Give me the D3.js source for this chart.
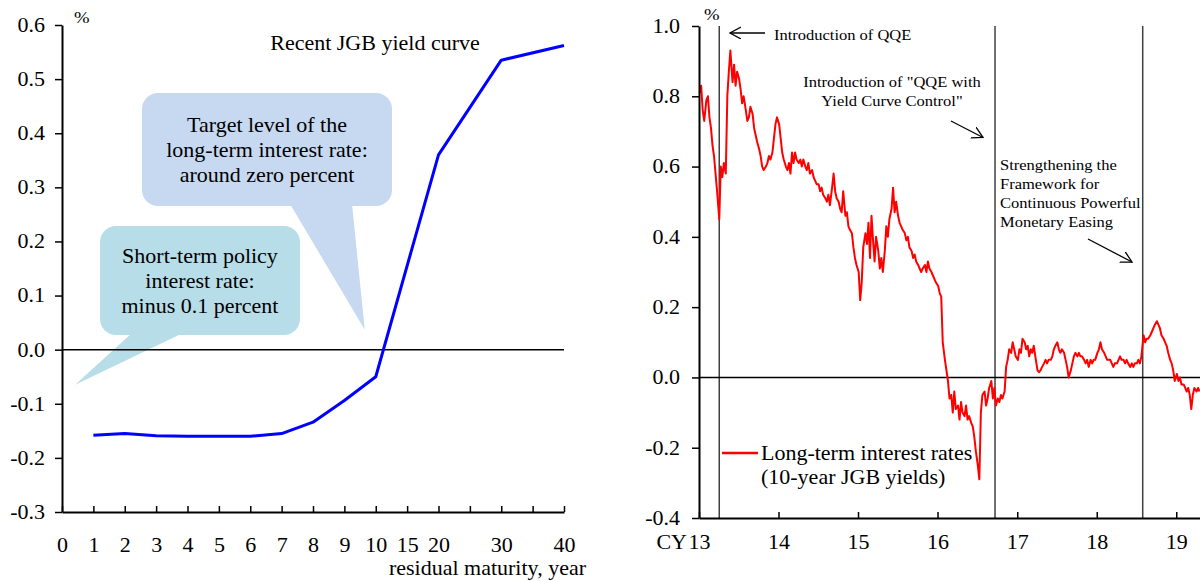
<!DOCTYPE html>
<html>
<head>
<meta charset="utf-8">
<script src="https://cdn.jsdelivr.net/npm/d3@7"></script>
<style>
  body { margin: 0; background: #fff; }
  svg { display: block; font-family: "Liberation Serif", "Times New Roman", serif; }
  svg text { font-family: "Liberation Serif", "Times New Roman", serif; }
</style>
</head>
<body>
<svg id="chart" width="1200" height="581"></svg>
<script>
// ---- left panel data: JGB yield curve
const maturityLabels = ['0', '1', '2', '3', '4', '5', '6', '7', '8', '9', '10', '15', '20', '', '30', '', '40'];
const curveMaturities = ['1', '2', '3', '4', '5', '6', '7', '8', '9', '10', '20', '30', '40'];
const curveYields = [-0.158, -0.155, -0.159, -0.160, -0.160, -0.160, -0.155, -0.134, -0.094, -0.050, 0.360, 0.535, 0.562];
const leftTicks = [-0.3, -0.2, -0.1, 0.0, 0.1, 0.2, 0.3, 0.4, 0.5, 0.6];

// ---- right panel data: 10-year JGB yields, four readings per month (4th, 11th, 18th, 25th)
const yields2013 = [0.81, 0.83, 0.76, 0.73, 0.79, 0.80, 0.74, 0.71, 0.66, 0.63, 0.58, 0.53,
                    0.45, 0.60, 0.57, 0.61, 0.58, 0.80, 0.87, 0.93, 0.84, 0.89, 0.83, 0.87,
                    0.85, 0.82, 0.78, 0.80, 0.76, 0.73, 0.74, 0.77, 0.75, 0.71, 0.69, 0.67,
                    0.65, 0.63, 0.60, 0.59, 0.60, 0.61, 0.63, 0.62, 0.64, 0.68, 0.72, 0.74];
const yields2014 = [0.72, 0.68, 0.64, 0.62, 0.60, 0.59, 0.61, 0.58, 0.64, 0.61, 0.64, 0.62,
                    0.61, 0.62, 0.60, 0.62, 0.60, 0.59, 0.61, 0.58, 0.59, 0.57, 0.56, 0.55,
                    0.55, 0.53, 0.54, 0.52, 0.51, 0.50, 0.52, 0.49, 0.54, 0.58, 0.53, 0.51,
                    0.50, 0.48, 0.47, 0.53, 0.46, 0.47, 0.43, 0.42, 0.41, 0.37, 0.34, 0.32];
const yields2015 = [0.30, 0.22, 0.27, 0.37, 0.41, 0.38, 0.44, 0.34, 0.46, 0.39, 0.33, 0.40,
                    0.36, 0.31, 0.34, 0.30, 0.36, 0.43, 0.40, 0.45, 0.48, 0.54, 0.47, 0.50,
                    0.46, 0.44, 0.43, 0.42, 0.41, 0.39, 0.40, 0.37, 0.36, 0.34, 0.35, 0.33,
                    0.32, 0.31, 0.30, 0.31, 0.32, 0.30, 0.33, 0.31, 0.30, 0.29, 0.28, 0.27];
const yields2016 = [0.26, 0.24, 0.23, 0.10, 0.05, 0.02, -0.01, -0.06, -0.05, -0.10, -0.04, -0.09,
                    -0.08, -0.12, -0.07, -0.10, -0.11, -0.08, -0.12, -0.11, -0.13, -0.14, -0.17, -0.21,
                    -0.25, -0.29, -0.10, -0.05, -0.04, -0.08, -0.06, -0.03, -0.01, -0.06, -0.03, -0.08,
                    -0.06, -0.07, -0.05, -0.06, -0.04, 0.03, 0.05, 0.08, 0.07, 0.10, 0.08, 0.06];
const yields2017 = [0.05, 0.08, 0.07, 0.11, 0.10, 0.08, 0.09, 0.06, 0.08, 0.07, 0.09, 0.06,
                    0.02, 0.015, 0.02, 0.03, 0.04, 0.05, 0.04, 0.05, 0.05, 0.06, 0.08, 0.09,
                    0.10, 0.08, 0.07, 0.08, 0.07, 0.05, 0.03, 0.00, 0.02, 0.04, 0.06, 0.07,
                    0.06, 0.07, 0.06, 0.06, 0.05, 0.04, 0.05, 0.03, 0.05, 0.04, 0.05, 0.05];
const yields2018 = [0.07, 0.08, 0.10, 0.08, 0.07, 0.06, 0.05, 0.05, 0.05, 0.04, 0.03, 0.04,
                    0.04, 0.05, 0.06, 0.05, 0.05, 0.04, 0.05, 0.04, 0.03, 0.04, 0.03, 0.04,
                    0.04, 0.05, 0.04, 0.06, 0.12, 0.10, 0.11, 0.11, 0.12, 0.13, 0.14, 0.15,
                    0.16, 0.15, 0.14, 0.12, 0.11, 0.10, 0.09, 0.07, 0.05, 0.04, 0.02, -0.01];
const yields2019 = [0.01, -0.01, 0.00, -0.02, -0.02, -0.03, -0.04, -0.03, -0.05, -0.09, -0.05, -0.03,
                    -0.04, -0.03, -0.04];
const rightTicks = [-0.4, -0.2, 0.0, 0.2, 0.4, 0.6, 0.8, 1.0];
const yearTicks = ['2013', '2014', '2015', '2016', '2017', '2018', '2019'];
const policyDates = ['2013-04-04', '2016-09-21', '2018-07-31'];

const svg = d3.select('#chart');
const fontFamily = '"Liberation Serif", "Times New Roman", serif';
const stretchX = 1.1;

// text in the reference is a little wider than Times, so widen it
function widen(sel) {
  sel.each(function () {
    const t = d3.select(this);
    const x = +t.attr('x') || 0;
    t.attr('x', x / stretchX).attr('transform', `scale(${stretchX},1)`);
  });
  return sel;
}

function label(x, y, txt, size, anchor) {
  return widen(svg.append('text')
    .attr('x', x).attr('y', y)
    .attr('font-size', size)
    .attr('text-anchor', anchor || 'start')
    .attr('fill', '#000')
    .text(txt));
}

function styleAxis(g) {
  g.attr('font-family', fontFamily).attr('font-size', 20);
  g.select('.domain').attr('stroke', '#000').attr('stroke-width', 2);
  g.selectAll('.tick line').attr('stroke', '#000').attr('stroke-width', 1.5);
  g.selectAll('.tick text')
    .style('font-family', fontFamily)
    .style('font-size', '20px')
    .attr('fill', '#000')
    .call(widen);
}

// ================= LEFT PANEL =================
const xL = d3.scaleLinear().domain([0, maturityLabels.length - 1]).range([62, 564]);
const yL = d3.scaleLinear().domain([-0.3, 0.6]).range([512, 25]);

// callouts (drawn behind the curve)
function callout(box, base, tip, fill) {
  svg.append('rect')
    .attr('x', box.x).attr('y', box.y)
    .attr('width', box.w).attr('height', box.h)
    .attr('rx', 16).attr('ry', 16)
    .attr('fill', fill);
  svg.append('path')
    .attr('d', d3.line()([[base[0], box.y + box.h - 2], [tip[0], tip[1]], [base[1], box.y + box.h - 2]]))
    .attr('fill', fill);
}

callout({x: 142, y: 93, w: 250, h: 113}, [290, 352], [xL(9.65), yL(0.037)], '#c6d9f0');
callout({x: 100, y: 226, w: 200, h: 109}, [132, 183], [xL(0.42), yL(-0.065)], '#b7dde8');

const targetLines = ['Target level of the', 'long-term interest rate:', 'around zero percent'];
targetLines.forEach((t, i) => label(267, 132 + i * 25, t, 20, 'middle'));
const shortLines = ['Short-term policy', 'interest rate:', 'minus 0.1 percent'];
shortLines.forEach((t, i) => label(200, 263 + i * 25, t, 20, 'middle'));

// zero line
svg.append('line')
  .attr('x1', xL(0)).attr('x2', xL(16))
  .attr('y1', yL(0)).attr('y2', yL(0))
  .attr('stroke', '#000').attr('stroke-width', 1.5);

const yAxisL = svg.append('g')
  .attr('transform', `translate(${xL(0)},0)`)
  .call(d3.axisLeft(yL).tickValues(leftTicks).tickSize(7).tickSizeOuter(0).tickPadding(10)
    .tickFormat(d => d.toFixed(1)));
styleAxis(yAxisL);

const xAxisL = svg.append('g')
  .attr('transform', `translate(0,${yL(-0.3)})`)
  .call(d3.axisBottom(xL).tickValues(d3.range(maturityLabels.length)).tickSize(-6).tickSizeOuter(0)
    .tickPadding(26).tickFormat(i => maturityLabels[i]));
styleAxis(xAxisL);

const curve = curveMaturities.map((m, i) => ({idx: maturityLabels.indexOf(m), value: curveYields[i]}));
svg.append('path')
  .datum(curve)
  .attr('fill', 'none')
  .attr('stroke', '#0000ff')
  .attr('stroke-width', 3)
  .attr('stroke-linejoin', 'round')
  .attr('d', d3.line().x(d => xL(d.idx)).y(d => yL(d.value)));

label(74, 23, '%', 17);
label(375, 50, 'Recent JGB yield curve', 20, 'middle');
label(586, 575, 'residual maturity, year', 20, 'end');

// ================= RIGHT PANEL =================
const parseDay = d3.timeParse('%Y-%m-%d');
const xR = d3.scaleTime().domain([new Date(2013, 0, 1), new Date(2019, 3, 20)]).range([699, 1200]);
const yR = d3.scaleLinear().domain([-0.4, 1.0]).range([518, 26]);

const yearly = [yields2013, yields2014, yields2015, yields2016, yields2017, yields2018, yields2019];
const jgb = [];
yearly.forEach((arr, yi) => {
  arr.forEach((v, i) => {
    jgb.push({date: new Date(2013 + yi, Math.floor(i / 4), 4 + 7 * (i % 4)), value: v});
  });
});

// policy event lines
svg.selectAll('line.event')
  .data(policyDates)
  .enter().append('line')
  .attr('class', 'event')
  .attr('x1', d => xR(parseDay(d))).attr('x2', d => xR(parseDay(d)))
  .attr('y1', yR(1.0)).attr('y2', yR(-0.4))
  .attr('stroke', '#404040').attr('stroke-width', 1.5);

svg.append('line')
  .attr('x1', xR.range()[0]).attr('x2', xR.range()[1])
  .attr('y1', yR(0)).attr('y2', yR(0))
  .attr('stroke', '#000').attr('stroke-width', 1.5);

svg.append('path')
  .datum(jgb)
  .attr('fill', 'none')
  .attr('stroke', '#ff0000')
  .attr('stroke-width', 2)
  .attr('stroke-linejoin', 'round')
  .attr('d', d3.line().x(d => xR(d.date)).y(d => yR(d.value)));

const yAxisR = svg.append('g')
  .attr('transform', `translate(${xR.range()[0]},0)`)
  .call(d3.axisLeft(yR).tickValues(rightTicks).tickSize(7).tickSizeOuter(0).tickPadding(12)
    .tickFormat(d => d.toFixed(1)));
styleAxis(yAxisR);

const xAxisR = svg.append('g')
  .attr('transform', `translate(0,${yR(-0.4)})`)
  .call(d3.axisBottom(xR).tickValues(yearTicks.map(y => new Date(+y, 0, 1))).tickSize(-6).tickSizeOuter(0)
    .tickPadding(17).tickFormat(d3.timeFormat('%y')));
styleAxis(xAxisR);

label(687, 549, 'CY', 20, 'end');
label(704, 20, '%', 17);

// arrows
svg.append('defs').append('marker')
  .attr('id', 'head')
  .attr('markerUnits', 'userSpaceOnUse')
  .attr('markerWidth', 14).attr('markerHeight', 14)
  .attr('refX', 11).attr('refY', 6)
  .attr('orient', 'auto')
  .append('path')
  .attr('d', 'M0,0L11,6L0,12')
  .attr('fill', 'none').attr('stroke', '#000').attr('stroke-width', 1.3);

const arrows = [[765, 33, 730, 33], [951, 121, 983, 137.5], [1088, 239, 1132, 262]];
arrows.forEach(a => {
  svg.append('line')
    .attr('x1', a[0]).attr('y1', a[1]).attr('x2', a[2]).attr('y2', a[3])
    .attr('stroke', '#000').attr('stroke-width', 1.3)
    .attr('marker-end', 'url(#head)');
});

label(774, 40, 'Introduction of QQE', 15);
['Introduction of "QQE with', 'Yield Curve Control"'].forEach((t, i) => label(892, 87 + i * 19, t, 15, 'middle'));
['Strengthening the', 'Framework for', 'Continuous Powerful', 'Monetary Easing']
  .forEach((t, i) => label(1000, 170 + i * 19, t, 15));

// legend
svg.append('line')
  .attr('x1', 722).attr('x2', 758).attr('y1', 453).attr('y2', 453)
  .attr('stroke', '#ff0000').attr('stroke-width', 2.5);
label(761, 460, 'Long-term interest rates', 20);
label(761, 484, '(10-year JGB yields)', 20);
</script>
</body>
</html>
